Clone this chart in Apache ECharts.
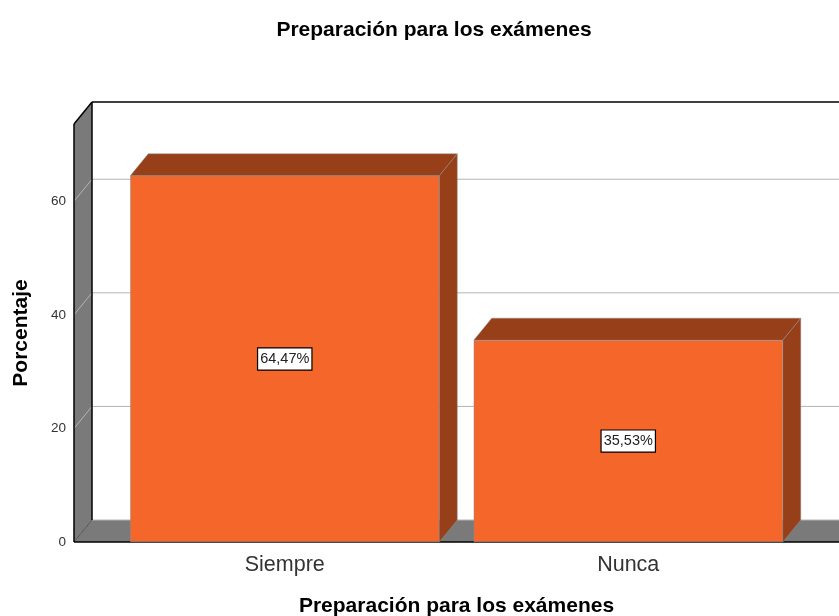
<!DOCTYPE html>
<html>
<head>
<meta charset="utf-8">
<style>html,body{margin:0;padding:0;background:#fff}#c{width:839px;height:616px}</style>
<script src="https://cdn.jsdelivr.net/npm/echarts@6/dist/echarts.min.js"></script>
</head>
<body>
<div id="c"></div>
<script>
const categories = ['Siempre', 'Nunca'];
const percentages = [64.47, 35.53];
const yTicks = [0, 20, 40, 60];
const yTop = 73.6;
const chartTitle = 'Preparación para los exámenes';
const xName = 'Preparación para los exámenes';
const yName = 'Porcentaje';

const DX = 18, DY = -22, LEFT_EXT = 39, BAR_W = 309;
const FONT = '"Liberation Sans", Arial, sans-serif';
const WALL = '#7a7a7a', FRONT = '#f4662a', DARK = '#963f18', GRID = '#b4b4b4', FG = '#000';

function frame(params, api) {
  const cs = params.coordSys;
  const y0 = api.coord([0, 0])[1], yT = api.coord([0, yTop])[1];
  const xL = cs.x - LEFT_EXT, xR = 860;
  const kids = [];
  const line = (x1, y1, x2, y2, stroke, w) => kids.push({type: 'line', shape: {x1, y1, x2, y2}, style: {stroke, lineWidth: w}});
  kids.push({type: 'polygon', shape: {points: [[xL, y0], [xL, yT], [xL + DX, yT + DY], [xL + DX, y0 + DY]]}, style: {fill: WALL}});
  kids.push({type: 'polygon', shape: {points: [[xL, y0], [xL + DX, y0 + DY], [xR, y0 + DY], [xR, y0]]}, style: {fill: WALL}});
  yTicks.forEach(t => {
    const y = api.coord([0, t])[1];
    if (t > 0) line(xL, y, xL + DX, y + DY, GRID, 1);
    line(xL + DX, y + DY, xR, y + DY, GRID, 1);
  });
  line(xL, y0, xL + DX, y0 + DY, '#555', 1);
  line(xL, y0, xL, yT, FG, 1.5);
  line(xL, yT, xL + DX, yT + DY, FG, 1.5);
  line(xL + DX, yT + DY, xL + DX, y0 + DY, FG, 1.5);
  line(xL + DX, yT + DY, xR, yT + DY, FG, 1.5);
  line(xL, y0, xR, y0, FG, 1.5);
  return {type: 'group', children: kids};
}

function barDepth(params, api) {
  const p0 = api.coord([api.value(0), 0]), p1 = api.coord([api.value(0), api.value(1)]);
  const l = p1[0] - BAR_W / 2, r = p1[0] + BAR_W / 2, t = p1[1], b = p0[1];
  return {type: 'group', children: [
    {type: 'polygon', shape: {points: [[l, t], [l + DX, t + DY], [r + DX, t + DY], [r, t]]}, style: {fill: DARK, stroke: '#8c8c8c', lineWidth: 0.5}},
    {type: 'polygon', shape: {points: [[r, t], [r + DX, t + DY], [r + DX, b + DY], [r, b]]}, style: {fill: DARK, stroke: '#8c8c8c', lineWidth: 0.5}}
  ]};
}

const chart = echarts.init(document.getElementById('c'), null, {renderer: 'canvas'});
chart.setOption({
  animation: false,
  backgroundColor: '#fff',
  title: {text: chartTitle, left: 429, top: 15, textAlign: 'center',
    textStyle: {fontFamily: FONT, fontSize: 21, fontWeight: 'bold', color: '#000'}},
  grid: {left: 113, width: 687, top: 124, height: 418, outerBoundsMode: 'none'},
  xAxis: {type: 'category', data: categories, name: xName, nameLocation: 'middle', nameGap: 54,
    nameTextStyle: {fontFamily: FONT, fontSize: 21, fontWeight: 'bold', color: '#000'},
    axisLine: {show: false}, axisTick: {show: false}, splitLine: {show: false},
    axisLabel: {fontFamily: FONT, fontSize: 21.5, color: '#333', margin: 12}},
  yAxis: {type: 'value', min: 0, max: yTop, interval: 20, offset: LEFT_EXT, name: yName, nameLocation: 'middle', nameGap: 42,
    nameTextStyle: {fontFamily: FONT, fontSize: 21, fontWeight: 'bold', color: '#000'},
    axisLine: {show: false}, axisTick: {show: false}, splitLine: {show: false},
    axisLabel: {fontFamily: FONT, fontSize: 13.5, color: '#333', margin: 8, showMaxLabel: false}},
  series: [
    {type: 'custom', z: 1, clip: false, silent: true, renderItem: frame, data: [[0, 0]], encode: {x: 0, y: 1}},
    {type: 'custom', z: 2, clip: false, silent: true, renderItem: barDepth,
      data: categories.map((c, i) => [i, percentages[i]]), encode: {x: 0, y: 1}},
    {type: 'bar', z: 3, barWidth: BAR_W, data: percentages,
      itemStyle: {color: FRONT, borderColor: '#8c8c8c', borderWidth: 0.5},
      label: {show: true, position: 'inside', fontFamily: FONT, fontSize: 14.5, color: '#222',
        backgroundColor: '#fff', borderColor: '#000', borderWidth: 1.2, padding: [3, 2, 3, 2],
        formatter: p => p.value.toFixed(2).replace('.', ',') + '%'}}
  ]
});
</script>
</body>
</html>
